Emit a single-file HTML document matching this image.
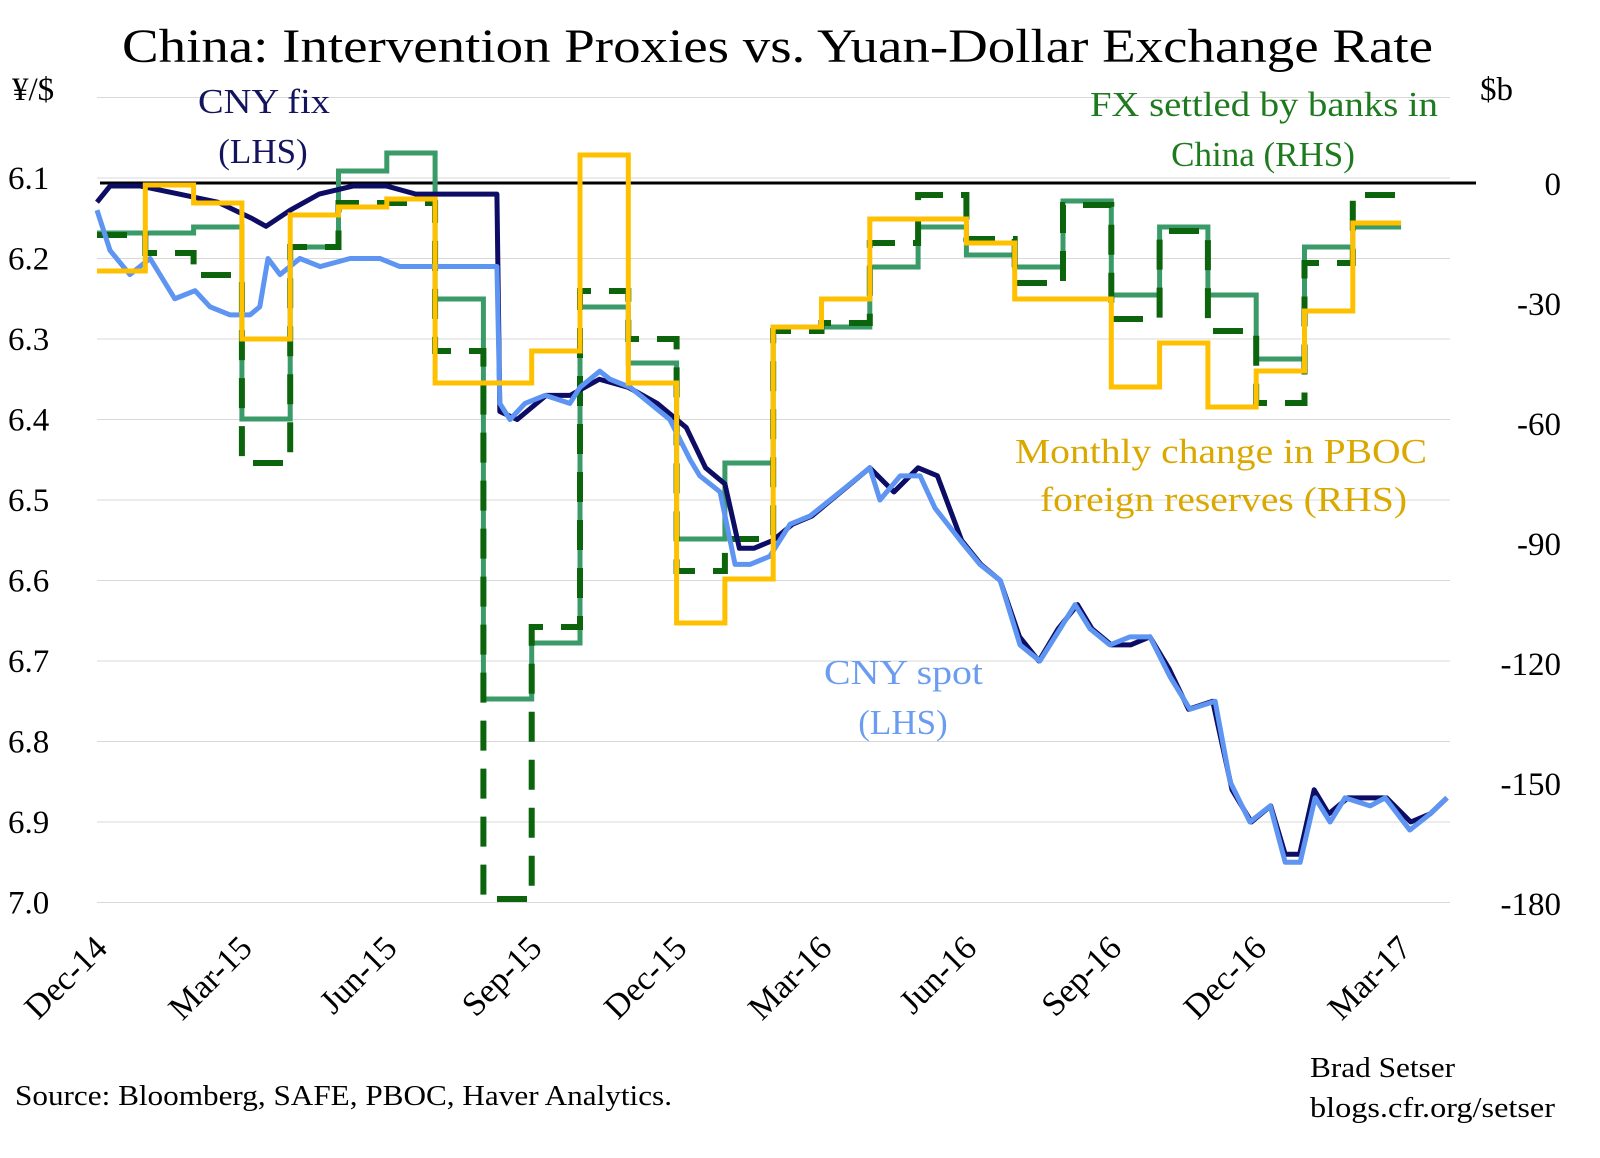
<!DOCTYPE html>
<html><head><meta charset="utf-8"><style>
body{margin:0;background:#fff}
svg text{font-family:"Liberation Serif",serif}
</style></head><body>
<svg id="chart" width="1600" height="1153" xmlns="http://www.w3.org/2000/svg">
<text x="122" y="62" font-size="48" textLength="1311" lengthAdjust="spacingAndGlyphs" fill="#000">China: Intervention Proxies vs. Yuan-Dollar Exchange Rate</text>
<text x="12" y="100" font-size="33">¥/$</text>
<text x="1480" y="100" font-size="33">$b</text>
<g id="grid"></g>
<g id="axes"></g>
<g id="series"></g>
<text x="198" y="113" font-size="35" textLength="132" lengthAdjust="spacingAndGlyphs" fill="#14145e">CNY fix</text>
<text x="263" y="163" font-size="35" fill="#14145e" text-anchor="middle">(LHS)</text>
<text x="1090" y="116" font-size="35" textLength="348" lengthAdjust="spacingAndGlyphs" fill="#1f7a1f">FX settled by banks in</text>
<text x="1263" y="166" font-size="35" fill="#1f7a1f" text-anchor="middle">China (RHS)</text>
<text x="1015" y="463" font-size="35" textLength="412" lengthAdjust="spacingAndGlyphs" fill="#dba800">Monthly change in PBOC</text>
<text x="1040" y="511" font-size="35" textLength="367" lengthAdjust="spacingAndGlyphs" fill="#dba800">foreign reserves (RHS)</text>
<text x="824" y="684" font-size="35" textLength="159" lengthAdjust="spacingAndGlyphs" fill="#6b9cf0">CNY spot</text>
<text x="903" y="734" font-size="35" fill="#6b9cf0" text-anchor="middle">(LHS)</text>
<text x="15" y="1105" font-size="28" textLength="657" lengthAdjust="spacingAndGlyphs">Source: Bloomberg, SAFE, PBOC, Haver Analytics.</text>
<text x="1310" y="1077" font-size="28" textLength="145" lengthAdjust="spacingAndGlyphs">Brad Setser</text>
<text x="1310" y="1117" font-size="28" textLength="245" lengthAdjust="spacingAndGlyphs">blogs.cfr.org/setser</text>
</svg>
<script>
const leftTicks=["6.0","6.1","6.2","6.3","6.4","6.5","6.6","6.7","6.8","6.9","7.0"];
const rightTicks=[0,-30,-60,-90,-120,-150,-180];
const xLabels=["Dec-14","Mar-15","Jun-15","Sep-15","Dec-15","Mar-16","Jun-16","Sep-16","Dec-16","Mar-17"];
const pbocChange=[-22,-0.5,-5,-39,-8,-6,-4,-50,-50,-42,7,-50,-110,-99,-36,-29,-9,-9,-15,-29,-29,-51,-40,-56,-47,-32,-10];
const fxSettled=[-12.5,-12.5,-11,-59,-16,3,7.5,-29,-129,-115,-31,-45,-89,-70,-36,-36,-21,-11,-18,-21,-4.5,-28,-11,-28,-44,-16,-11];
const fxDashed=[-13,-17.5,-23,-70,-16,-5,-5,-42,-179,-111,-27,-39,-97,-89,-37,-35,-15,-3,-14,-25,-5.5,-34,-12,-37,-55,-20,-3];
const spotT=[0,.27,.68,1.10,1.61,2.03,2.34,2.75,3.17,3.37,3.54,3.79,4.20,4.62,5.24,5.86,6.27,6.89,7.52,8.28,8.34,8.55,8.86,9.28,9.79,10.0,10.41,10.62,11.04,11.45,11.86,12.28,12.48,12.90,13.21,13.52,13.93,14.35,14.76,15.18,15.59,16.0,16.21,16.63,17.04,17.35,17.87,18.28,18.70,19.11,19.52,19.94,20.25,20.56,20.97,21.39,21.80,22.22,22.63,23.15,23.46,23.87,24.29,24.60,24.91,25.22,25.53,25.84,26.36,26.67,27.18,27.60,27.95];
const spotV=[6.14,6.19,6.22,6.20,6.25,6.24,6.26,6.27,6.27,6.26,6.20,6.22,6.20,6.21,6.20,6.20,6.21,6.21,6.21,6.21,6.38,6.40,6.38,6.37,6.38,6.36,6.34,6.35,6.36,6.38,6.40,6.45,6.47,6.49,6.58,6.58,6.57,6.53,6.52,6.50,6.48,6.46,6.50,6.47,6.47,6.51,6.55,6.58,6.60,6.68,6.70,6.66,6.63,6.66,6.68,6.67,6.67,6.72,6.76,6.75,6.85,6.90,6.88,6.95,6.95,6.87,6.90,6.87,6.88,6.87,6.91,6.89,6.87];
const fixT=[0,.27,.9,1.7,2.5,3.2,3.5,4.0,4.6,5.3,6.0,6.6,7.4,8.28,8.34,8.7,9.3,9.8,10.4,11.0,11.6,12.2,12.6,13.0,13.3,13.6,14.0,14.4,14.8,15.2,15.6,16.0,16.5,17.0,17.4,17.9,18.3,18.7,19.1,19.5,19.9,20.3,20.6,21.0,21.4,21.8,22.2,22.6,23.1,23.5,23.9,24.3,24.6,24.9,25.2,25.5,25.9,26.4,26.7,27.2,27.6,27.95];
const fixV=[6.13,6.11,6.11,6.12,6.13,6.15,6.16,6.14,6.12,6.11,6.11,6.12,6.12,6.12,6.39,6.40,6.37,6.37,6.35,6.36,6.38,6.41,6.46,6.48,6.56,6.56,6.55,6.53,6.52,6.50,6.48,6.46,6.49,6.46,6.47,6.55,6.58,6.60,6.67,6.70,6.66,6.63,6.66,6.68,6.68,6.67,6.71,6.76,6.75,6.86,6.90,6.88,6.94,6.94,6.86,6.89,6.87,6.87,6.87,6.90,6.89,6.87];

const NS="http://www.w3.org/2000/svg";
const X0=97,MW=48.3,XR=1450;
const xScale=t=>X0+t*MW;
const yL=v=>97.5+(v-6.0)*805;
const yR=v=>183-v*4;
function mk(tag,attrs,parent){const e=document.createElementNS(NS,tag);for(const k in attrs)e.setAttribute(k,attrs[k]);document.getElementById(parent).appendChild(e);return e;}

leftTicks.forEach((l,i)=>{
  const y=yL(parseFloat(l));
  const g=mk('line',{x1:X0,x2:XR,y1:y,y2:y,stroke:'#d9d9d9','stroke-width':1},'grid');
  
  
  if(i>0){const t=mk('text',{x:8,y:y+11,'font-size':33},'axes');t.textContent=l;
  
  }
});
rightTicks.forEach(v=>{
  const t=mk('text',{x:1561,y:yR(v)+12,'font-size':33,'text-anchor':'end'},'axes');t.textContent=v;
  
  
});
xLabels.forEach((l,i)=>{
  const x=xScale(i*3);
  const t=mk('text',{x:0,y:0,'font-size':34,'text-anchor':'end',transform:`translate(${x+12},${950}) rotate(-45)`},'axes');t.textContent=l;
  
  
});
const zl=mk('line',{x1:100,x2:1476,y1:yR(0),y2:yR(0),stroke:'#000','stroke-width':3},'axes');



function stepPath(vals){let d='';vals.forEach((v,i)=>{const y=yR(v);d+=(i?'L':'M')+xScale(i)+','+y+'L'+xScale(i+1)+','+y;});return d;}
function linePath(ts,vs){return ts.map((t,i)=>(i?'L':'M')+xScale(t)+','+yL(vs[i])).join('');}

const p1=mk('path',{d:stepPath(fxSettled),fill:'none',stroke:'#3a9a68','stroke-width':5},'series');


const p2=mk('path',{d:stepPath(fxDashed),fill:'none',stroke:'#0c650c','stroke-width':6,'stroke-dasharray':'30,18'},'series');


const p3=mk('path',{d:linePath(fixT,fixV),fill:'none',stroke:'#0d0d66','stroke-width':5,'stroke-linejoin':'round'},'series');


const p4=mk('path',{d:linePath(spotT,spotV),fill:'none',stroke:'#5e95f2','stroke-width':5,'stroke-linejoin':'round'},'series');


const p5=mk('path',{d:stepPath(pbocChange),fill:'none',stroke:'#ffc000','stroke-width':5},'series');


</script>
</body></html>
